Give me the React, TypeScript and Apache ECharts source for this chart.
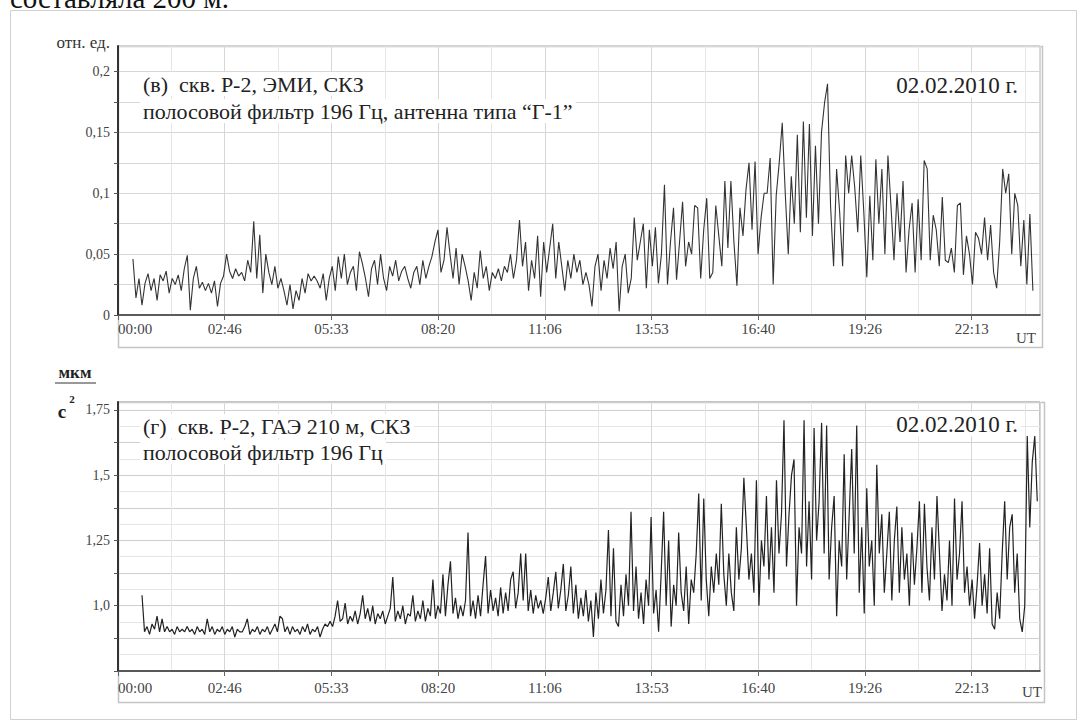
import React, { useEffect, useRef } from "react";
import * as echarts from "echarts";

const xTickLabels = ["00:00", "02:46", "05:33", "08:20", "11:06", "13:53", "16:40", "19:26", "22:13"];
const xTickStep = 10000;
const xMin = 0;
const xMax = 86400;

const topYTicks = [0, 0.05, 0.1, 0.15, 0.2];
const topYLabels = ["0", "0,05", "0,1", "0,15", "0,2"];
const bottomYTicks = [1.0, 1.25, 1.5, 1.75];
const bottomYLabels = ["1,0", "1,25", "1,5", "1,75"];

const topTitle1 = "(в)  скв. Р-2, ЭМИ, СКЗ";
const topTitle2 = "полосовой фильтр 196 Гц, антенна типа “Г-1”";
const bottomTitle1 = "(г)  скв. Р-2, ГАЭ 210 м, СКЗ";
const bottomTitle2 = "полосовой фильтр 196 Гц";
const dateText = "02.02.2010 г.";

// seconds since 00:00 of first sample and sampling step
const topStart = 1400;
const topStep = 283;
const topValues = [
  0.046, 0.014, 0.03, 0.008, 0.026, 0.034, 0.02, 0.03, 0.012, 0.033,
  0.028, 0.036, 0.018, 0.03, 0.025, 0.033, 0.02, 0.038, 0.049, 0.004,
  0.03, 0.04, 0.022, 0.027, 0.02, 0.026, 0.018, 0.028, 0.007, 0.026,
  0.032, 0.05, 0.036, 0.03, 0.038, 0.032, 0.035, 0.028, 0.045, 0.035,
  0.077, 0.03, 0.066, 0.018, 0.05, 0.035, 0.025, 0.04, 0.022, 0.03,
  0.02, 0.008, 0.025, 0.005, 0.02, 0.012, 0.03, 0.018, 0.034, 0.028,
  0.032, 0.028, 0.022, 0.034, 0.012, 0.03, 0.04, 0.02, 0.048, 0.03,
  0.05, 0.025, 0.035, 0.04, 0.02, 0.052, 0.042, 0.03, 0.015, 0.038,
  0.045, 0.025, 0.05, 0.03, 0.02, 0.04, 0.032, 0.045, 0.028, 0.036,
  0.04, 0.03, 0.022, 0.035, 0.04, 0.025, 0.045, 0.03, 0.04, 0.048,
  0.06, 0.07, 0.035, 0.045, 0.072, 0.05, 0.03, 0.055, 0.025, 0.05,
  0.04, 0.028, 0.012, 0.035, 0.022, 0.053, 0.03, 0.04, 0.02, 0.035,
  0.03, 0.038, 0.028, 0.04, 0.035, 0.05, 0.03, 0.045, 0.078, 0.04,
  0.06, 0.02, 0.045, 0.03, 0.065, 0.015, 0.06, 0.035, 0.055, 0.075,
  0.03, 0.06, 0.04, 0.02, 0.045, 0.03, 0.05, 0.035, 0.045, 0.025,
  0.035, 0.025, 0.007, 0.04, 0.05, 0.02, 0.045, 0.03, 0.055, 0.038,
  0.06, 0.003, 0.04, 0.05, 0.018, 0.03, 0.08, 0.045, 0.06, 0.075,
  0.022, 0.07, 0.04, 0.072, 0.026, 0.05, 0.107, 0.025, 0.06, 0.088,
  0.029, 0.06, 0.093, 0.04, 0.06, 0.05, 0.09, 0.088, 0.03, 0.07,
  0.096, 0.03, 0.035, 0.09, 0.065, 0.04, 0.11, 0.055, 0.11, 0.06,
  0.024, 0.088, 0.065, 0.103, 0.125, 0.07, 0.126, 0.05, 0.08, 0.1,
  0.1, 0.129, 0.025, 0.098, 0.125, 0.158, 0.1, 0.05, 0.114, 0.075,
  0.148, 0.068, 0.159, 0.08, 0.157, 0.065, 0.139, 0.075, 0.15, 0.174,
  0.19, 0.09, 0.04, 0.12, 0.085, 0.04, 0.131, 0.1, 0.131, 0.105,
  0.068, 0.131, 0.085, 0.031, 0.098, 0.045, 0.128, 0.075, 0.12, 0.05,
  0.131, 0.09, 0.045, 0.1, 0.06, 0.11, 0.035, 0.07, 0.092, 0.035,
  0.095, 0.045, 0.127, 0.12, 0.045, 0.082, 0.07, 0.04, 0.097, 0.045,
  0.043, 0.055, 0.035, 0.09, 0.092, 0.033, 0.065, 0.05, 0.025, 0.068,
  0.063, 0.05, 0.08, 0.045, 0.074, 0.035, 0.022, 0.06, 0.12, 0.1,
  0.116, 0.05, 0.1, 0.09, 0.04, 0.078, 0.025, 0.083, 0.02,
];

const bottomStart = 2250;
const bottomStep = 235;
const bottomValues = [
  1.04, 0.9, 0.92, 0.89, 0.93, 0.91, 0.96, 0.9, 0.95, 0.9,
  0.92, 0.9, 0.91, 0.89, 0.92, 0.9, 0.91, 0.9, 0.92, 0.9,
  0.91, 0.89, 0.92, 0.9, 0.91, 0.89, 0.95, 0.9, 0.92, 0.89,
  0.91, 0.9, 0.92, 0.89, 0.91, 0.9, 0.92, 0.88, 0.91, 0.9,
  0.9, 0.92, 0.95, 0.89, 0.91, 0.9, 0.92, 0.89, 0.91, 0.9,
  0.92, 0.89, 0.91, 0.93, 0.9, 0.96, 0.95, 0.9, 0.92, 0.89,
  0.92, 0.9, 0.91, 0.89, 0.92, 0.9, 0.93, 0.89, 0.91, 0.9,
  0.92, 0.88, 0.91, 0.93, 0.92, 0.94, 0.92, 0.96, 1.02, 0.94,
  0.95, 1.01, 0.93, 0.96, 0.94, 0.98, 0.93, 0.97, 1.04, 0.95,
  0.99, 0.94, 1.0, 0.93, 0.97, 0.95, 0.98, 0.93, 0.96, 0.99,
  1.11, 0.94, 0.98, 0.95, 1.0, 0.93, 0.97, 0.96, 1.04, 0.94,
  0.98, 0.95, 1.02, 0.94, 0.99, 0.96, 1.1, 0.95, 1.0, 0.97,
  1.12, 0.96, 1.08, 1.17, 0.97, 1.03, 0.95, 1.0, 0.96, 1.02,
  1.28, 0.96, 1.02, 0.95, 1.04, 0.96, 1.08, 1.19, 0.97, 1.06,
  0.98, 1.03, 0.96, 1.07, 0.97, 1.05, 0.98, 1.1, 1.13, 0.99,
  1.05, 1.2, 1.02, 1.2, 0.98, 1.06, 0.97, 1.04, 0.99, 1.02,
  0.97, 1.03, 1.11, 0.98, 1.05, 1.13, 0.99, 1.06, 1.16, 0.98,
  1.04, 1.15, 0.97, 1.08, 0.95, 1.03, 0.96, 1.06, 0.94, 1.02,
  0.88, 1.05, 0.95, 1.1, 0.97, 1.06, 1.29, 0.96, 1.22, 0.94,
  0.92, 1.08, 0.96, 1.12, 1.0, 1.36, 0.98, 1.15, 0.95, 1.05,
  0.93, 1.1, 1.0, 1.34, 0.97, 1.06, 0.9, 1.12, 1.36, 1.0,
  1.25, 0.92, 1.08, 1.0, 1.28, 1.05, 0.98, 1.15, 0.93, 1.1,
  1.05, 1.2, 1.43, 1.02, 1.41, 1.1, 0.96, 1.15, 1.05, 1.2,
  1.08, 1.39, 1.12, 1.0, 1.2, 1.05, 0.98, 1.3, 1.1, 1.22,
  1.49, 1.3, 1.1, 1.2, 1.05, 1.48, 1.0, 1.25, 1.15, 1.42,
  1.1, 1.3, 1.05, 1.48, 1.2, 1.35, 1.71, 1.15, 1.35, 1.5,
  1.56, 1.0, 1.3, 1.2, 1.71, 1.15, 1.4, 1.1, 1.68, 1.25,
  1.4, 1.7, 1.2, 1.69, 1.1, 1.3, 1.42, 0.96, 1.25, 1.15,
  1.58, 1.1, 1.35, 1.6, 1.2, 1.69, 1.05, 1.3, 0.97, 1.45,
  1.15, 1.25, 1.0, 1.54, 1.2, 1.35, 1.05, 1.2, 1.36, 1.02,
  1.25, 1.38, 1.05, 1.3, 1.1, 1.2, 1.0, 1.28, 1.08, 1.22,
  1.4, 1.05, 1.39, 1.15, 1.02, 1.3, 1.1, 1.42, 1.2, 0.98,
  1.12, 1.02, 1.25, 1.0, 1.41, 1.1, 1.2, 1.4, 1.05, 1.15,
  1.0, 1.1, 0.95, 1.08, 1.24, 1.0, 1.12, 0.97, 1.22, 0.93,
  0.91, 1.05, 0.95, 1.2, 1.4, 1.1, 1.3, 1.35, 1.05, 1.2,
  0.95, 0.9, 1.0, 1.65, 1.3, 1.55, 1.65, 1.4,
];

const SERIF = "Liberation Serif";

function labelFor(ticks: number[], labels: string[], v: number): string {
  for (let i = 0; i < ticks.length; i++) {
    if (Math.abs(ticks[i] - v) < 1e-6) return labels[i];
  }
  return "";
}

function xLabel(v: number): string {
  const k = Math.round(v / xTickStep);
  if (Math.abs(v - k * xTickStep) > 1e-6) return "";
  return xTickLabels[k] ?? "";
}

function txt(x: number, y: number, text: string, size: number, align: string, opts: any = {}) {
  return {
    type: "text",
    silent: true,
    x,
    y,
    z: 10,
    style: {
      text,
      fontFamily: SERIF,
      fontSize: size,
      fontWeight: opts.bold ? "bold" : "normal",
      fill: opts.fill ?? "#222",
      textAlign: align,
      textVerticalAlign: "middle",
      align,
      verticalAlign: "middle",
      backgroundColor: opts.bg,
      padding: opts.bg ? [1, 3] : 0,
    },
  };
}

export default function App() {
  const ref = useRef<HTMLDivElement>(null);

  useEffect(() => {
    if (!ref.current) return;
    const chart = echarts.init(ref.current, undefined, { renderer: "svg" });

    const topData = topValues.map((v, i) => [topStart + i * topStep, v]);
    const bottomData = bottomValues.map((v, i) => [bottomStart + i * bottomStep, v]);

    const gridLine = { show: true, lineStyle: { color: "#d6d6d6", width: 1 } };
    const minorLine = { show: true, lineStyle: { color: "#e6e6e6", width: 1 } };

    const xAxisBase = (gridIndex: number, margin: number) => ({
      type: "value" as const,
      gridIndex,
      min: xMin,
      max: xMax,
      interval: xTickStep,
      axisLine: { show: true, onZero: false, lineStyle: { color: "#333", width: 1.5 } },
      axisTick: { show: true, length: 5, lineStyle: { color: "#666" } },
      minorTick: { show: false, splitNumber: 2 },
      splitLine: gridLine,
      minorSplitLine: minorLine,
      axisLabel: {
        show: true,
        formatter: xLabel,
        color: "#444",
        fontFamily: SERIF,
        fontSize: 15,
        margin,
        alignMinLabel: "left",
        showMaxLabel: false,
      },
    });

    const option: any = {
      animation: false,
      backgroundColor: "#ffffff",
      textStyle: { fontFamily: SERIF },
      grid: [
        { left: 118, top: 46, width: 922, height: 269, show: true, borderColor: "#b5b5b5", borderWidth: 1, backgroundColor: "transparent" },
        { left: 118, top: 402, width: 922, height: 269, show: true, borderColor: "#8a8a8a", borderWidth: 1, backgroundColor: "transparent" },
      ],
      xAxis: [xAxisBase(0, 6), xAxisBase(1, 9)],
      yAxis: [
        {
          type: "value",
          gridIndex: 0,
          min: 0,
          max: 0.221,
          interval: 0.025,
          axisLine: { show: true, lineStyle: { color: "#333", width: 2 } },
          axisTick: { show: true, length: 4, lineStyle: { color: "#555" } },
          splitLine: gridLine,
          axisLabel: {
            formatter: (v: number) => labelFor(topYTicks, topYLabels, v),
            color: "#444",
            fontFamily: SERIF,
            fontSize: 14,
            margin: 8,
            showMaxLabel: false,
          },
        },
        {
          type: "value",
          gridIndex: 1,
          min: 0.75,
          max: 1.78,
          interval: 0.125,
          axisLine: { show: true, lineStyle: { color: "#333", width: 2 } },
          axisTick: { show: true, length: 4, lineStyle: { color: "#555" } },
          minorTick: { show: false, splitNumber: 2 },
          splitLine: { show: true, lineStyle: { color: "#cfcfcf", width: 1 } },
          minorSplitLine: minorLine,
          axisLabel: {
            formatter: (v: number) => labelFor(bottomYTicks, bottomYLabels, v),
            color: "#444",
            fontFamily: SERIF,
            fontSize: 14,
            margin: 8,
            showMaxLabel: false,
          },
        },
      ],
      series: [
        {
          type: "line",
          xAxisIndex: 0,
          yAxisIndex: 0,
          data: topData,
          showSymbol: false,
          symbol: "none",
          lineStyle: { color: "#333", width: 1.1 },
          silent: true,
        },
        {
          type: "line",
          xAxisIndex: 1,
          yAxisIndex: 1,
          data: bottomData,
          showSymbol: false,
          symbol: "none",
          lineStyle: { color: "#222", width: 1.2 },
          silent: true,
        },
      ],
      graphic: [
        { type: "rect", silent: true, shape: { x: 10.5, y: 10.5, width: 1066, height: 709 }, style: { fill: "none", stroke: "#d0d0d0", lineWidth: 1 } },
        { type: "rect", silent: true, shape: { x: 118.5, y: 46.5, width: 924, height: 301 }, style: { fill: "none", stroke: "#c4c4c4", lineWidth: 1.5 } },
        { type: "rect", silent: true, shape: { x: 118.5, y: 402.5, width: 926, height: 300 }, style: { fill: "none", stroke: "#c4c4c4", lineWidth: 1.5 } },
        txt(10, -2, "составляла 200 м.", 29, "left", { fill: "#111" }),
        txt(110, 42, "отн. ед.", 17, "right", { fill: "#333" }),
        txt(140, 84, topTitle1, 22, "left", { bg: "#fff" }),
        txt(140, 111, topTitle2, 22, "left", { bg: "#fff" }),
        txt(1021, 85, dateText, 23, "right", { bg: "#fff" }),
        txt(1036, 338, "UT", 15, "right", { fill: "#444" }),
        txt(75, 372, "мкм", 17, "center", { bold: true }),
        { type: "line", silent: true, shape: { x1: 55, y1: 383, x2: 96, y2: 383 }, style: { stroke: "#333", lineWidth: 1 } },
        txt(62, 411, "с", 19, "center", { bold: true }),
        txt(72, 399, "2", 11, "center", { bold: true }),
        txt(140, 426, bottomTitle1, 22, "left", { bg: "#fff" }),
        txt(140, 452, bottomTitle2, 22, "left", { bg: "#fff" }),
        txt(1021, 424, dateText, 23, "right", { bg: "#fff" }),
        txt(1042, 692, "UT", 15, "right", { fill: "#444" }),
      ],
    };

    chart.setOption(option);
    return () => chart.dispose();
  }, []);

  return (
    <div
      ref={ref}
      style={{ position: "fixed", left: 0, top: 0, width: 1080, height: 722, background: "#fff" }}
    />
  );
}
